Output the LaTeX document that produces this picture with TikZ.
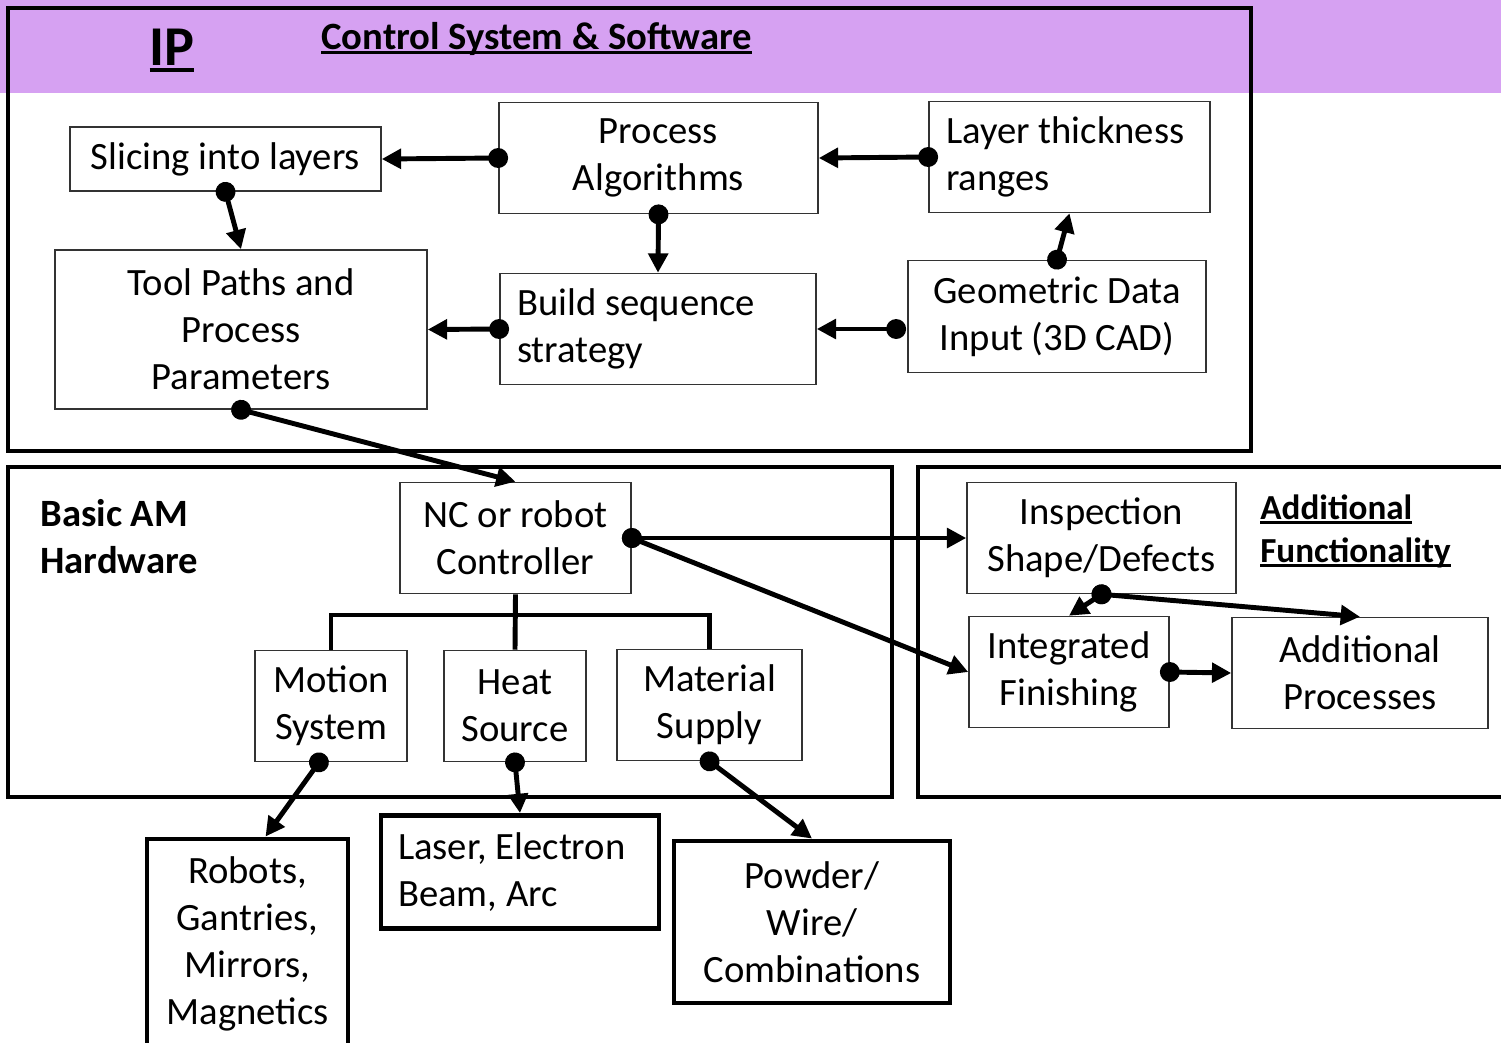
\documentclass[tikz,border=0pt]{standalone}
\usepackage{fontspec}
\setmainfont{Carlito}
\usetikzlibrary{positioning, arrows.meta, calc}
\definecolor{bandpurple}{RGB}{214,161,242}
\newcommand{\ulhead}[1]{\setbox0=\hbox{#1}\rlap{\rule[-0.13em]{\wd0}{0.07em}}\box0}

\begin{document}
\begin{tikzpicture}[x=0.02cm, y=-0.02cm,
    box/.style={draw=black!80, line width=0.9pt, align=center, font=\fontsize{22}{26.8}\selectfont},
    heavybox/.style={box, draw=black, line width=2.8pt},
    frame/.style={line width=2.3pt},
    link/.style={line width=2.8pt, shorten <=-5.6pt,
      {Circle[length=11.3pt, width=11.3pt]}-{Triangle[length=11pt, width=11pt]}},
    bus/.style={line width=2.8pt},
    head/.style={font=\fontsize{22}{26.8}\selectfont\bfseries, inner sep=0pt, align=flush left}]
        \useasboundingbox (0,0) rectangle (1501,1042);

        % Frames
        \fill[bandpurple] (0,0) rectangle (1501,93);
        \draw[frame] (8,8) rectangle (1251,451);
        \draw[frame] (8,467) rectangle (892,797);
        \draw[frame] (918,467) rectangle (1530,797);

        % Labels
        \node[head, font=\fontsize{32}{38}\selectfont\bfseries, anchor=base] (iplabel) at (172,65) {\ulhead{IP}};
        \node[head, anchor=base west] (ctrllabel) at (321,49) {\ulhead{Control System \& Software}};
        \node[head, anchor=west] (amlabel) at (40,537) {Basic AM\\Hardware};
        \node[head, font=\fontsize{20}{24.4}\selectfont\bfseries, anchor=west] (funclabel) at (1260,531) {\ulhead{Additional}\\\ulhead{Functionality}};

        % Control system and software
        \node[box, minimum width=6.22cm, minimum height=1.28cm] (slice) at (225.5,159) {Slicing into layers};
        \node[box, minimum width=6.38cm, minimum height=2.22cm] (algo) at (658.5,158) {Process\\Algorithms};
        \node[box, align=flush left, text width=4.94cm, inner xsep=0.34cm, minimum height=2.22cm] (layer) at (1069.5,157) {Layer thickness\\ranges};
        \node[box, minimum width=7.44cm, minimum height=3.18cm] (tool) at (241,329.5) {Tool Paths and\\Process\\Parameters};
        \node[box, align=flush left, text width=5.64cm, inner xsep=0.34cm, minimum height=2.22cm] (build) at (658,329) {Build sequence\\strategy};
        \node[box, minimum width=5.96cm, minimum height=2.24cm] (geo) at (1057,316.5) {Geometric Data\\Input (3D CAD)};

        % Basic AM hardware
        \node[box, minimum width=4.62cm, minimum height=2.22cm] (nc) at (515.5,538) {NC or robot\\Controller};
        \node[box, minimum width=3.04cm, minimum height=2.22cm] (motion) at (331,706) {Motion\\System};
        \node[box, minimum width=2.84cm, minimum height=2.22cm] (heat) at (515,706) {Heat\\Source};
        \node[box, minimum width=3.70cm, minimum height=2.22cm] (material) at (709.5,705) {Material\\Supply};
        \node[heavybox, minimum width=4.02cm, minimum height=4.2cm] (robots) at (247.5,944) {Robots,\\Gantries,\\Mirrors,\\Magnetics};
        \node[heavybox, align=flush left, text width=4.88cm, inner xsep=0.34cm, minimum height=2.26cm] (laser) at (520,872) {Laser, Electron\\Beam, Arc};
        \node[heavybox, minimum width=5.52cm, minimum height=3.24cm] (powder) at (812,922) {Powder/\\Wire/\\Combinations};

        % Additional functionality
        \node[box, minimum width=5.38cm, minimum height=2.22cm] (insp) at (1101.5,538) {Inspection\\Shape/Defects};
        \node[box, minimum width=4.00cm, minimum height=2.22cm] (integ) at (1069,672) {Integrated\\Finishing};
        \node[box, minimum width=5.12cm, minimum height=2.22cm] (addp) at (1360,673) {Additional\\Processes};

        % Controller bus
        \coordinate (split) at (515.5,615);
        \draw[bus] (nc.south) -- (heat.north);
        \draw[bus] (motion.north) |- (split) -| (material.north);

        % Links
        \draw[link] (algo.west) -- (slice.east);
        \draw[link] (layer.west) -- (algo.east);
        \draw[link] (slice.south) -- (tool.north);
        \draw[link] (algo.south) -- (build.north);
        \draw[link] (geo.north) -- (layer.south);
        \draw[link] ($(geo.west |- build.east)+(-11,0)$) -- (build.east);
        \draw[link] (build.west) -- (tool.east);
        \draw[link] (tool.south) -- (nc.north);
        \draw[link] (nc.east) -- (insp.west);
        \draw[link] (nc.east) -- (integ.west);
        \draw[link] (insp.south) -- (integ.north);
        \draw[link] (insp.south) -- (addp.north);
        \draw[link] (integ.east) -- (addp.west);
        \draw[link] ($(motion.south)+(-12,0)$) -- ($(robots.north)+(18,0)$);
        \draw[link] (heat.south) -- (laser.north);
        \draw[link] (material.south) -- (powder.north);

      \end{tikzpicture}
\end{document}
